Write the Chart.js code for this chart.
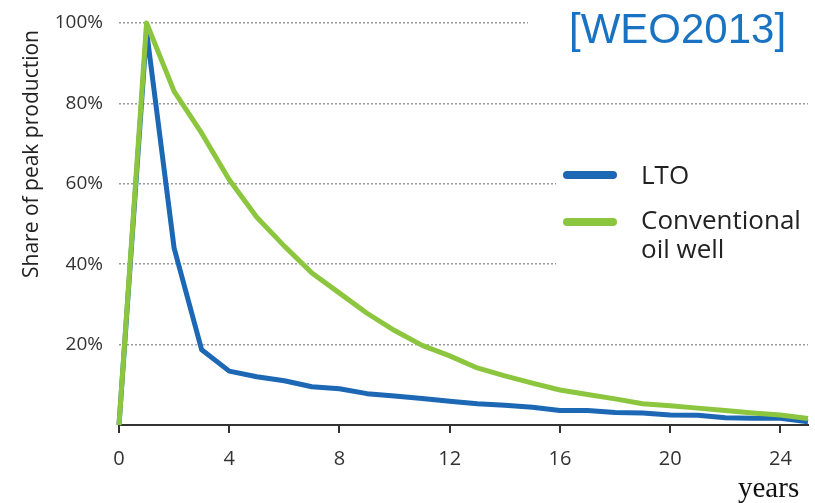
<!DOCTYPE html>
<html lang="en">
<head>
<meta charset="UTF-8">
<title>LTO vs conventional well decline</title>
<script src="https://cdn.jsdelivr.net/npm/chart.js"></script>
<style>
  body { margin: 0; background: #fff; }
  #wrap { width: 815px; height: 503px; }
</style>
</head>
<body>
<div id="wrap"><canvas id="decline"></canvas></div>
<script>
// years since first production
const years = [0,1,2,3,4,5,6,7,8,9,10,11,12,13,14,15,16,17,18,19,20,21,22,23,24,25];
// share of peak production, %
const lto = [0,98,44,18.7,13.4,12,11,9.5,9,7.8,7.2,6.6,5.9,5.3,4.9,4.4,3.6,3.6,3.1,3.0,2.5,2.4,1.8,1.7,1.7,0.8];
const conventional = [0,100,83,72.6,61,51.7,44.5,37.8,32.8,27.8,23.5,19.8,17.2,14.2,12.2,10.4,8.7,7.6,6.5,5.3,4.8,4.2,3.6,3.0,2.5,1.6];
const yTicks = [20,40,60,80,100];
const xTicks = [0,4,8,12,16,20,24];

const blue = '#1d68b5';
const green = '#8cc63f';

const overlay = {
  id: 'overlay',
  beforeDatasetsDraw(chart) {
    const c = chart.ctx;
    // gridlines stop short of the title and legend
    c.save();
    c.fillStyle = '#fff';
    c.fillRect(528, 10, 285, 24);
    c.fillRect(556, 170, 257, 100);
    c.restore();
  },
  afterDraw(chart) {
    const c = chart.ctx;
    c.save();
    // y title
    c.translate(32, 154);
    c.rotate(-Math.PI / 2);
    c.fillStyle = '#222';
    c.font = '21px "Open Sans"';
    c.textAlign = 'center';
    c.textBaseline = 'middle';
    c.fillText('Share of peak production', 0, 0);
    c.restore();

    c.save();
    c.fillStyle = '#1a73c2';
    c.font = '42px "Liberation Sans"';
    c.textBaseline = 'alphabetic';
    c.fillText('[WEO2013]', 569, 43);

    // legend
    c.lineCap = 'round';
    c.lineWidth = 8;
    c.strokeStyle = blue;
    c.beginPath(); c.moveTo(567, 175); c.lineTo(613, 175); c.stroke();
    c.strokeStyle = green;
    c.beginPath(); c.moveTo(567, 222); c.lineTo(613, 222); c.stroke();
    c.fillStyle = '#222';
    c.font = '26px "Open Sans"';
    c.textBaseline = 'middle';
    c.fillText('LTO', 641, 177);
    c.fillText('Conventional', 641, 222);
    c.fillText('oil well', 641, 251);

    c.font = '29px "Liberation Serif"';
    c.textBaseline = 'alphabetic';
    c.fillStyle = '#111';
    c.fillText('years', 738, 497);
    c.restore();
  }
};

new Chart(document.getElementById('decline'), {
  type: 'line',
  data: {
    datasets: [
      { label: 'Conventional oil well', data: years.map((x, i) => ({ x, y: conventional[i] })),
        borderColor: green, borderWidth: 5, pointRadius: 0, tension: 0, clip: false, borderJoinStyle: 'round' },
      { label: 'LTO', data: years.map((x, i) => ({ x, y: lto[i] })),
        borderColor: blue, borderWidth: 5, pointRadius: 0, tension: 0, clip: false, borderJoinStyle: 'round' }
    ]
  },
  options: {
    responsive: true,
    maintainAspectRatio: false,
    animation: false,
    layout: { padding: { top: 23, right: 7, left: 0, bottom: 0 } },
    plugins: { legend: { display: false }, tooltip: { enabled: false } },
    scales: {
      x: {
        type: 'linear', min: 0, max: 25,
        afterFit(s) { s.height = 78; s.paddingLeft = 0; s.paddingRight = 0; },
        afterBuildTicks(s) { s.ticks = xTicks.map(v => ({ value: v })); },
        border: { color: '#333', width: 2 },
        grid: { drawOnChartArea: false, drawTicks: true, tickLength: 8, color: '#333', lineWidth: 2 },
        ticks: { color: '#333', font: { family: 'Open Sans', size: 20 }, padding: 14, maxRotation: 0 }
      },
      y: {
        min: 0, max: 100,
        afterFit(s) { s.width = 119; s.paddingTop = 0; s.paddingBottom = 0; },
        afterBuildTicks(s) { s.ticks = yTicks.map(v => ({ value: v })); },
        border: { display: false, dash: [2, 2] },
        grid: { color: '#9a9a9a', lineWidth: 1.5, drawTicks: false },
        ticks: { color: '#333', font: { family: 'Open Sans', size: 19 }, padding: 16,
                 callback: v => v + '%' }
      }
    }
  },
  plugins: [overlay]
});
</script>
</body>
</html>
